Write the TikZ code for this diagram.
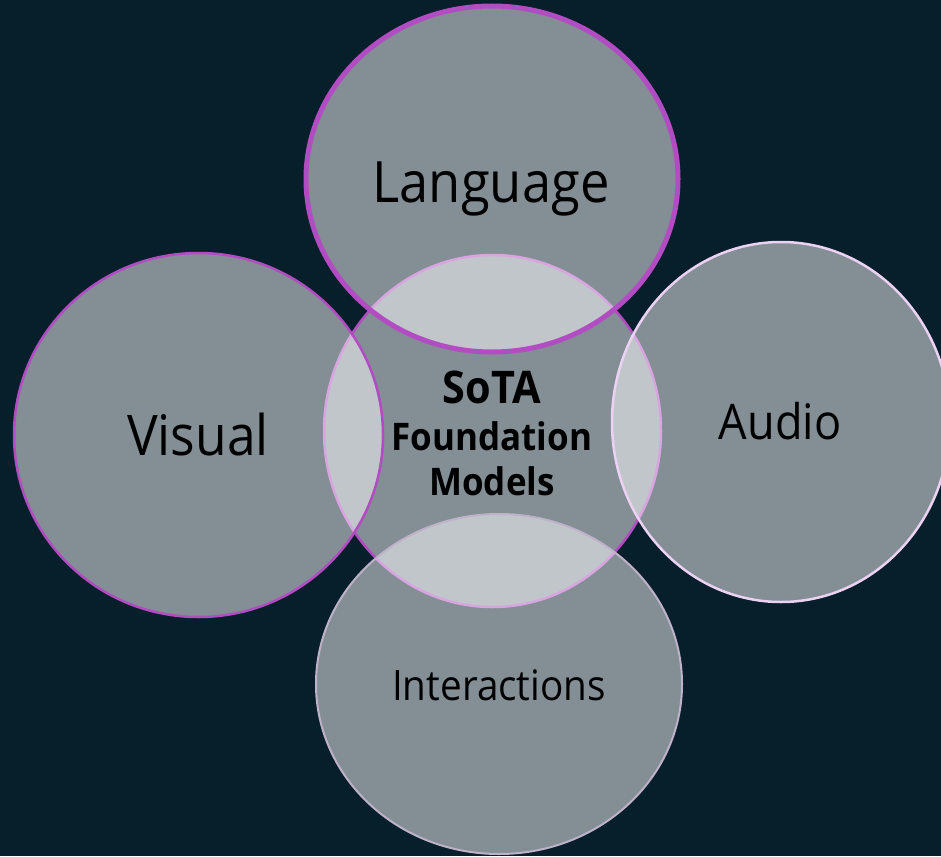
\documentclass[tikz,border=0pt]{standalone}
\usepackage{fontspec}
\setmainfont[FakeStretch=0.92]{Open Sans}
\usetikzlibrary{shapes.geometric}
\definecolor{bgc}{RGB}{7,30,43}
\definecolor{purp}{RGB}{178,76,194}
\definecolor{audiol}{RGB}{236,210,242}
\definecolor{interl}{RGB}{190,178,200}
\tikzset{
  blob/.style={ellipse, inner sep=0pt, outer sep=0pt, fill=white, fill opacity=0.5, draw opacity=1},
  lbl/.style={anchor=base, text=black, inner sep=0pt}
}
\begin{document}
\begin{tikzpicture}[x=1pt,y=-1pt]
\fill[bgc] (0,0) rectangle (941,856);
\useasboundingbox (0,0) rectangle (941,856);
% centre first (its outline is covered by the others' fills)
\node[blob, draw=purp, line width=2.5pt, minimum width=337pt, minimum height=352pt] (core) at (492.5,431) {};
\node[blob, draw=purp, line width=5pt, minimum width=372pt, minimum height=346pt] (lang) at (492,179) {};
\node[blob, draw=purp, line width=2.5pt, minimum width=369pt, minimum height=364pt] (vis) at (198.5,435) {};
\node[blob, draw=audiol, line width=2.5pt, minimum width=338pt, minimum height=360pt] (aud) at (781,422) {};
\node[blob, draw=interl, line width=2pt, minimum width=366pt, minimum height=340pt] (inter) at (499,684) {};
% labels
\node[lbl, font=\fontsize{57}{60}\selectfont] (tlang) at (491,202) {Language};
\node[lbl, font=\fontsize{56}{60}\selectfont] (tvis) at (198,455) {Visual};
\node[lbl, font=\fontsize{49}{52}\selectfont] (taud) at (780,439) {Audio};
\node[lbl, font=\fontsize{42}{46}\selectfont] (tint) at (499,700) {Interactions};
\node[lbl, font=\fontsize{45}{48}\selectfont\bfseries] (t1) at (492,403) {SoTA};
\node[lbl, font=\fontsize{38}{42}\selectfont\bfseries] (t2) at (492,450) {Foundation};
\node[lbl, font=\fontsize{38}{42}\selectfont\bfseries] (t3) at (492,495) {Models};
\end{tikzpicture}
\end{document}
